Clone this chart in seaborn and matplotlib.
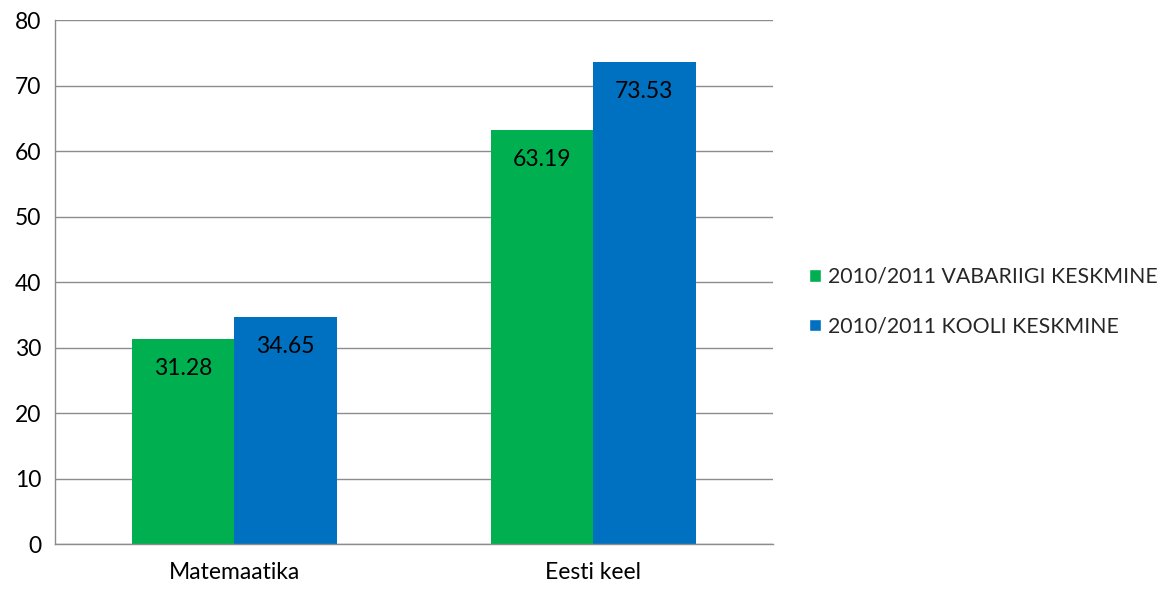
import matplotlib
matplotlib.use('Agg')
import matplotlib.pyplot as plt
import pandas as pd
import seaborn as sns
from matplotlib.patches import Patch

subjects = ['Matemaatika', 'Eesti keel']
series = ['2010/2011 VABARIIGI KESKMINE', '2010/2011 KOOLI KESKMINE']
vabariigi = [31.28, 63.19]
kooli = [34.65, 73.53]
colors = ['#00B050', '#0070C0']

df = pd.DataFrame({
    'aine': subjects * 2,
    'seeria': [series[0]] * 2 + [series[1]] * 2,
    'vaartus': vabariigi + kooli,
})

sns.set_theme(style='white')
plt.rcParams['font.family'] = ['Lato', 'DejaVu Sans']

fig = plt.figure(figsize=(11.69, 5.89), dpi=100)
ax = fig.add_axes([0.047, 0.0764, 0.614, 0.8896])

sns.barplot(data=df, x='aine', y='vaartus', hue='seeria', palette=colors,
            width=0.57, saturation=1, linewidth=0, ax=ax, legend=False)

for cont in ax.containers:
    for bar in cont:
        h = bar.get_height()
        ax.annotate(f'{h:.2f}', (bar.get_x() + bar.get_width() / 2, h),
                    xytext=(0, -21), textcoords='offset points',
                    ha='center', va='center', fontsize=16.5, color='#000000')

ax.set_ylim(0, 80)
ax.set_yticks(range(0, 81, 10))
ax.set_xlim(-0.5, 1.5)
ax.yaxis.grid(True, color='#8C8C8C', linewidth=1)
ax.set_axisbelow(True)
ax.set_xlabel('')
ax.set_ylabel('')
for side in ['top', 'right']:
    ax.spines[side].set_visible(False)
for side in ['left', 'bottom']:
    ax.spines[side].set_color('#8C8C8C')
    ax.spines[side].set_linewidth(1)
ax.tick_params(axis='both', length=0, labelsize=16.5, colors='#000000')
ax.tick_params(axis='y', pad=10)
ax.tick_params(axis='x', pad=13)

handles = [Patch(facecolor=c, label=s) for c, s in zip(colors, series)]
fig.legend(handles=handles, loc='center left', bbox_to_anchor=(0.676, 0.488),
           frameon=False, fontsize=15.3, handlelength=0.55, handleheight=0.55,
           handletextpad=0.35, labelspacing=1.4)

fig.savefig('out.png', dpi=100)
